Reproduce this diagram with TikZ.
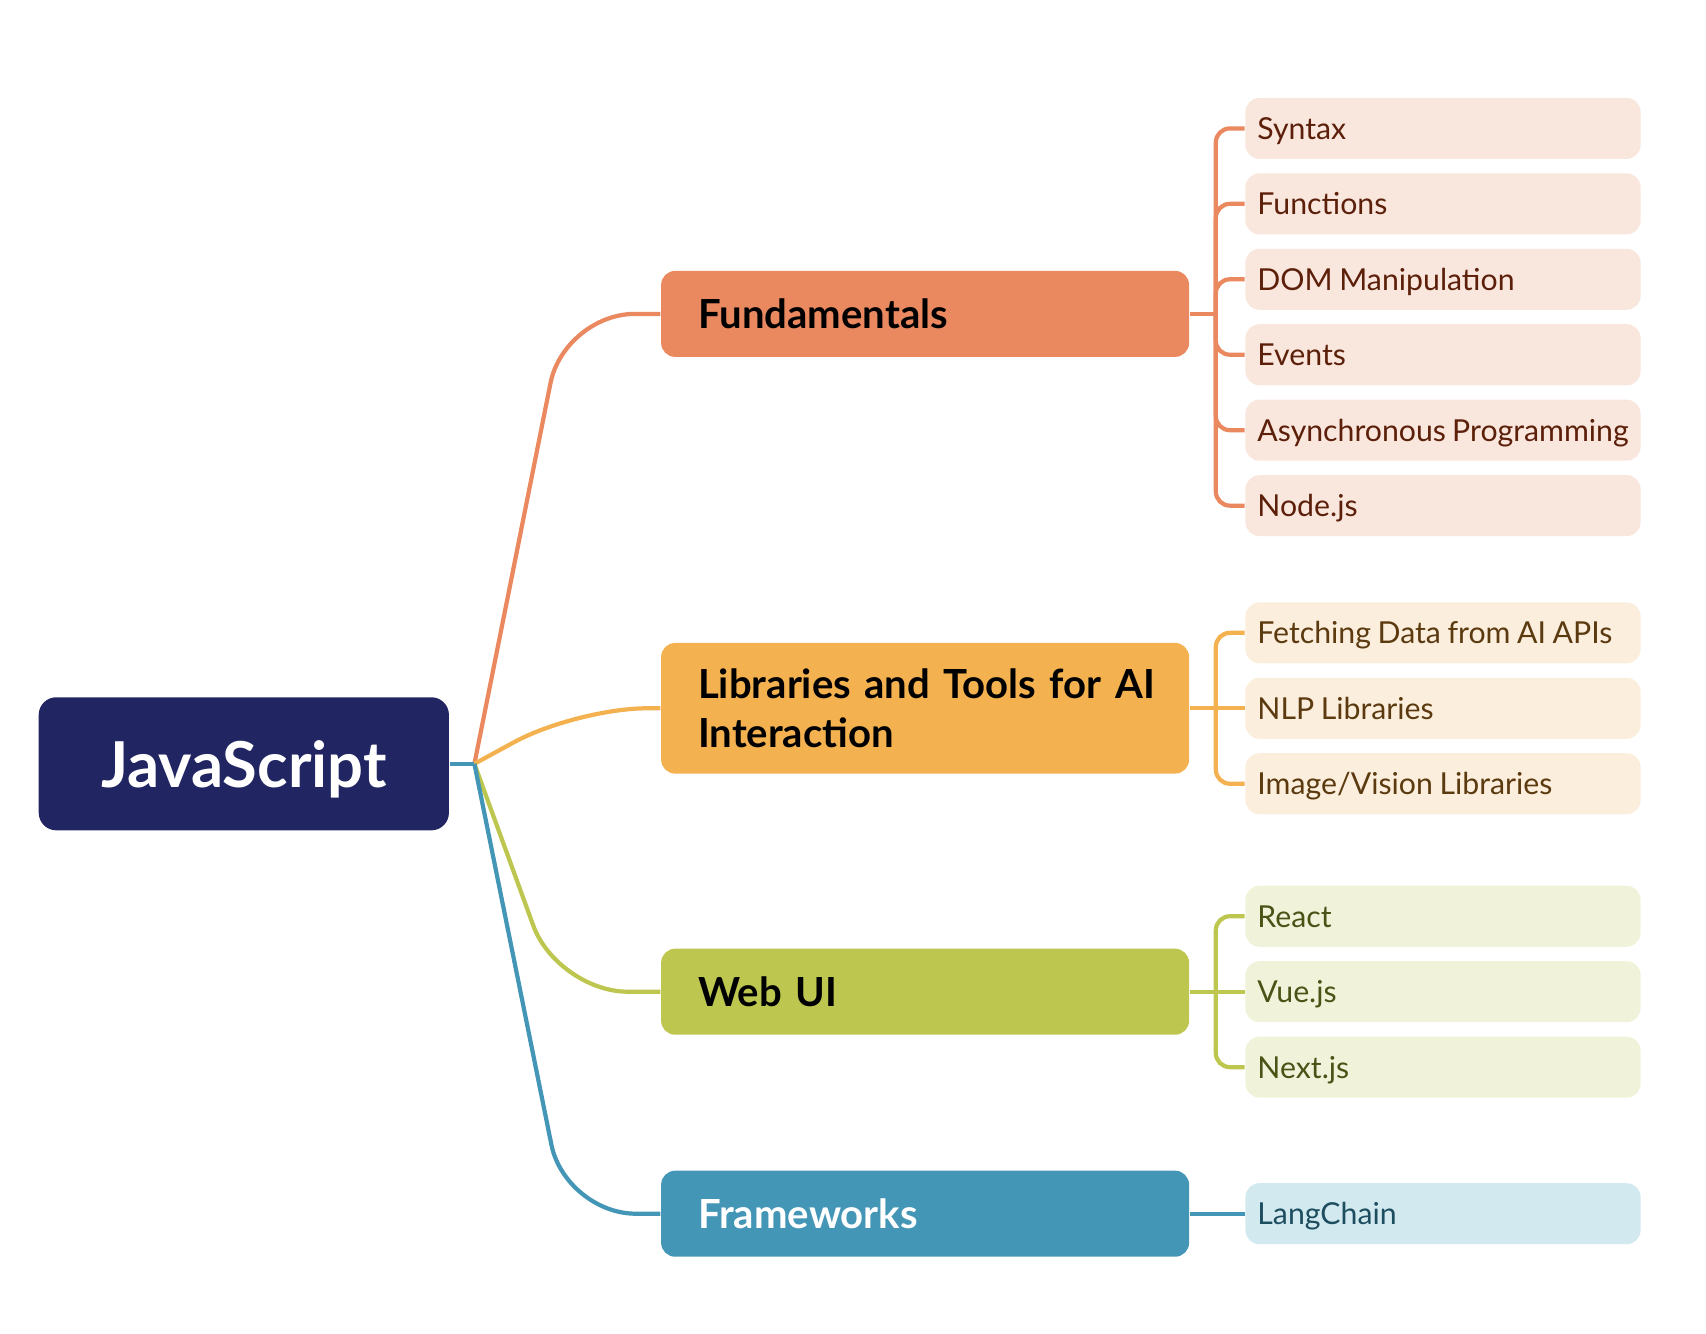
\documentclass[tikz,border=0pt]{standalone}
\usepackage{fontspec}
\setmainfont{Lato}[WordSpace=0.85]
\usetikzlibrary{positioning}

\definecolor{rootblue}{RGB}{33,37,98}
\definecolor{fundorange}{RGB}{234,136,96}
\definecolor{fundleaf}{RGB}{249,230,221}
\definecolor{fundtext}{RGB}{92,32,10}
\definecolor{libyellow}{RGB}{243,177,80}
\definecolor{libleaf}{RGB}{251,238,220}
\definecolor{libtext}{RGB}{92,58,16}
\definecolor{webgreen}{RGB}{189,198,78}
\definecolor{webleaf}{RGB}{240,243,218}
\definecolor{webtext}{RGB}{74,82,22}
\definecolor{frameblue}{RGB}{68,150,182}
\definecolor{frameleaf}{RGB}{211,233,240}
\definecolor{frametext}{RGB}{29,78,96}

\tikzset{
  rootbox/.style={fill=rootblue, text=white, rounded corners=5pt, anchor=west,
    minimum width=4.1cm, minimum height=1.33cm, text depth=0pt,
    font=\fontsize{18}{21}\selectfont\bfseries},
  topic/.style={fill=#1, rounded corners=4pt, anchor=west, align=left,
    inner xsep=3.7mm, text width=4.537cm, minimum height=0.86cm,
    font=\fontsize{11.4}{14}\selectfont\bfseries},
  leaf/.style={fill=#1, rounded corners=4pt, anchor=west,
    inner xsep=1.2mm, minimum width=3.95cm, minimum height=0.61cm, text depth=0pt,
    font=\fontsize{8.6}{10.5}\selectfont,
    execute at begin node={\hbox to 3.71cm\bgroup},
    execute at end node={\hfil\egroup}},
  link/.style={draw=#1, line width=1.2pt},
}

\begin{document}
\begin{tikzpicture}[x=0.01cm, y=-0.01cm, node distance=1.3mm]
\useasboundingbox (0,0) rectangle (1706,1334);

% root and topics
\node[rootbox] (js) at (38,763.8) {JavaScript};
\coordinate (hub) at (474.4,763.8);

\node[topic=fundorange] (fund) at (660.4,313.9) {Fundamentals};
\node[topic=libyellow, minimum height=1.306cm] (libs) at (660.4,708.3) {\mbox{Libraries and Tools for AI}\\Interaction};
\node[topic=webgreen] (webui) at (660.4,991.7) {Web UI};
\node[topic=frameblue, text=white] (frame) at (660.4,1213.7) {Frameworks};

% leaves
\node[leaf=fundleaf, text=fundtext] (syntax) at (1244.7,128.4) {Syntax};
\node[leaf=fundleaf, text=fundtext] (functions) [below=of syntax] {Functions};
\node[leaf=fundleaf, text=fundtext] (dom) [below=of functions] {DOM Manipulation};
\node[leaf=fundleaf, text=fundtext] (events) [below=of dom] {Events};
\node[leaf=fundleaf, text=fundtext] (async) [below=of events] {Asynchronous Programming};
\node[leaf=fundleaf, text=fundtext] (nodejs) [below=of async] {Node.js};

\node[leaf=libleaf, text=libtext] (nlp) at (1244.7,708.3) {NLP Libraries};
\node[leaf=libleaf, text=libtext] (fetching) [above=of nlp] {Fetching Data from AI APIs};
\node[leaf=libleaf, text=libtext] (vision) [below=of nlp] {Image/Vision Libraries};

\node[leaf=webleaf, text=webtext] (vuejs) at (1244.7,991.7) {Vue.js};
\node[leaf=webleaf, text=webtext] (react) [above=of vuejs] {React};
\node[leaf=webleaf, text=webtext] (nextjs) [below=of vuejs] {Next.js};

\node[leaf=frameleaf, text=frametext] (langchain) at (1244.7,1213.7) {LangChain};

% root branches
\draw[link=fundorange, rounded corners=20pt] (hub) -- ([xshift=-9.6mm]fund.west) -- (fund.west);
\draw[link=libyellow, rounded corners=20pt] (hub) -- ([xshift=-8.4mm]libs.west) -- (libs.west);
\draw[link=webgreen, rounded corners=20pt] (hub) -- ([xshift=-10.3mm]webui.west) -- (webui.west);
\draw[link=frameblue, rounded corners=20pt] (hub) -- ([xshift=-9.5mm]frame.west) -- (frame.west);
\draw[link=frameblue] (js.east) -- (hub);

% leaf buses
\foreach \topic/\col in {fund/fundorange, libs/libyellow, webui/webgreen}
    {
    \coordinate (\topic bus) at ([xshift=2.6mm]\topic.east);
    \draw[link=\col] (\topic.east) -- (\topic bus);
    }

\foreach \from/\to/\col in {fundbus/syntax/fundorange, fundbus/functions/fundorange,
    fundbus/dom/fundorange, fundbus/events/fundorange, fundbus/async/fundorange,
    fundbus/nodejs/fundorange, libsbus/fetching/libyellow, libsbus/vision/libyellow,
    webuibus/react/webgreen, webuibus/nextjs/webgreen}
    {
    \draw[link=\col, rounded corners=4pt] (\from) |- (\to.west);
    }

\foreach \from/\to/\col in {libs/nlp/libyellow, webui/vuejs/webgreen, frame/langchain/frameblue}
    {
    \draw[link=\col] (\from.east) -- (\to.west);
    }

\end{tikzpicture}
\end{document}
